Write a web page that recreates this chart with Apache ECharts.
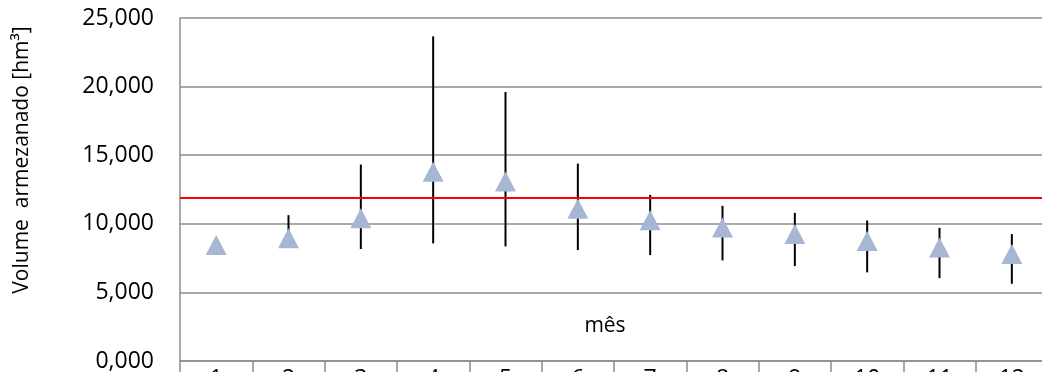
<!DOCTYPE html>
<html>
<head>
<meta charset="utf-8">
<script src="https://cdn.jsdelivr.net/npm/echarts@6/dist/echarts.min.js"></script>
<style>
  html, body { margin: 0; padding: 0; background: #ffffff; }
  #chart { width: 1042px; height: 372px; }
</style>
</head>
<body>
<div id="chart"></div>
<script>
// ---- data (hm³) ----
const meses = ['1', '2', '3', '4', '5', '6', '7', '8', '9', '10', '11', '12'];
const volumeMedio = [8.46, 8.94, 10.40, 13.80, 13.09, 11.10, 10.25, 9.73, 9.26, 8.74, 8.28, 7.79];
const volumeMaximo = [8.46, 10.63, 14.32, 23.66, 19.61, 14.39, 12.11, 11.31, 10.80, 10.24, 9.71, 9.25];
const volumeMinimo = [8.46, 8.50, 8.16, 8.57, 8.35, 8.08, 7.72, 7.33, 6.92, 6.46, 6.04, 5.63];
const volumeLimite = 11.92;
const yTicks = [0, 5, 10, 15, 20, 25];

const fmt = v => v.toFixed(3).replace('.', ',');
const FONT = '"Open Sans", "Liberation Sans", sans-serif';
const GRAY = '#8c8c8c';

const errRows = meses.map((m, i) => [i, volumeMinimo[i], volumeMaximo[i]]);

const chart = echarts.init(document.getElementById('chart'), null, { renderer: 'canvas' });
chart.setOption({
  animation: false,
  backgroundColor: '#ffffff',
  textStyle: { fontFamily: FONT },
  grid: { left: 180, right: -6, top: 18, bottom: 11, containLabel: false, outerBoundsMode: 'none' },
  xAxis: {
    type: 'category',
    data: meses,
    boundaryGap: true,
    axisLine: { show: true, lineStyle: { color: GRAY, width: 1.5 } },
    axisTick: { show: true, interval: 0, length: 14, lineStyle: { color: GRAY, width: 1.5 } },
    axisLabel: { show: true, interval: 0, margin: 7, fontSize: 23, color: '#000', fontFamily: FONT },
    splitLine: { show: false }
  },
  yAxis: {
    type: 'value',
    min: yTicks[0],
    max: yTicks[yTicks.length - 1],
    interval: yTicks[1] - yTicks[0],
    axisLine: { show: true, lineStyle: { color: GRAY, width: 1.5 } },
    axisTick: { show: false },
    axisLabel: { margin: 26, fontSize: 23, color: '#000', fontFamily: FONT, formatter: fmt },
    splitLine: { show: true, lineStyle: { color: GRAY, width: 1.5 } }
  },
  graphic: [
    {
      type: 'text',
      x: 22, y: 160,
      rotation: Math.PI / 2,
      style: {
        text: 'Volume  armezanado [hm³]',
        fontSize: 21, fontFamily: FONT, fill: '#000',
        textAlign: 'center', textVerticalAlign: 'middle'
      }
    },
    {
      type: 'text',
      x: 605, y: 326,
      style: {
        text: 'mês',
        fontSize: 21, fontFamily: FONT, fill: '#000',
        textAlign: 'center', textVerticalAlign: 'middle'
      }
    }
  ],
  series: [
    {
      type: 'line',
      data: [],
      markLine: {
        silent: true,
        symbol: 'none',
        label: { show: false },
        lineStyle: { color: '#ff0000', width: 2, type: 'solid' },
        data: [{ yAxis: volumeLimite }]
      },
      z: 1
    },
    {
      type: 'custom',
      data: errRows,
      encode: { x: 0, y: [1, 2] },
      z: 2,
      renderItem: function (params, api) {
        const lo = api.value(1), hi = api.value(2);
        if (lo === hi) return null;
        const p1 = api.coord([api.value(0), lo]);
        const p2 = api.coord([api.value(0), hi]);
        return {
          type: 'line',
          shape: { x1: p1[0], y1: p1[1], x2: p2[0], y2: p2[1] },
          style: { stroke: '#000', lineWidth: 2 }
        };
      }
    },
    {
      type: 'scatter',
      data: volumeMedio,
      symbol: 'triangle',
      symbolSize: [21, 20],
      itemStyle: { color: '#a6b6d3', opacity: 1 },
      z: 3
    }
  ]
});
</script>
</body>
</html>
